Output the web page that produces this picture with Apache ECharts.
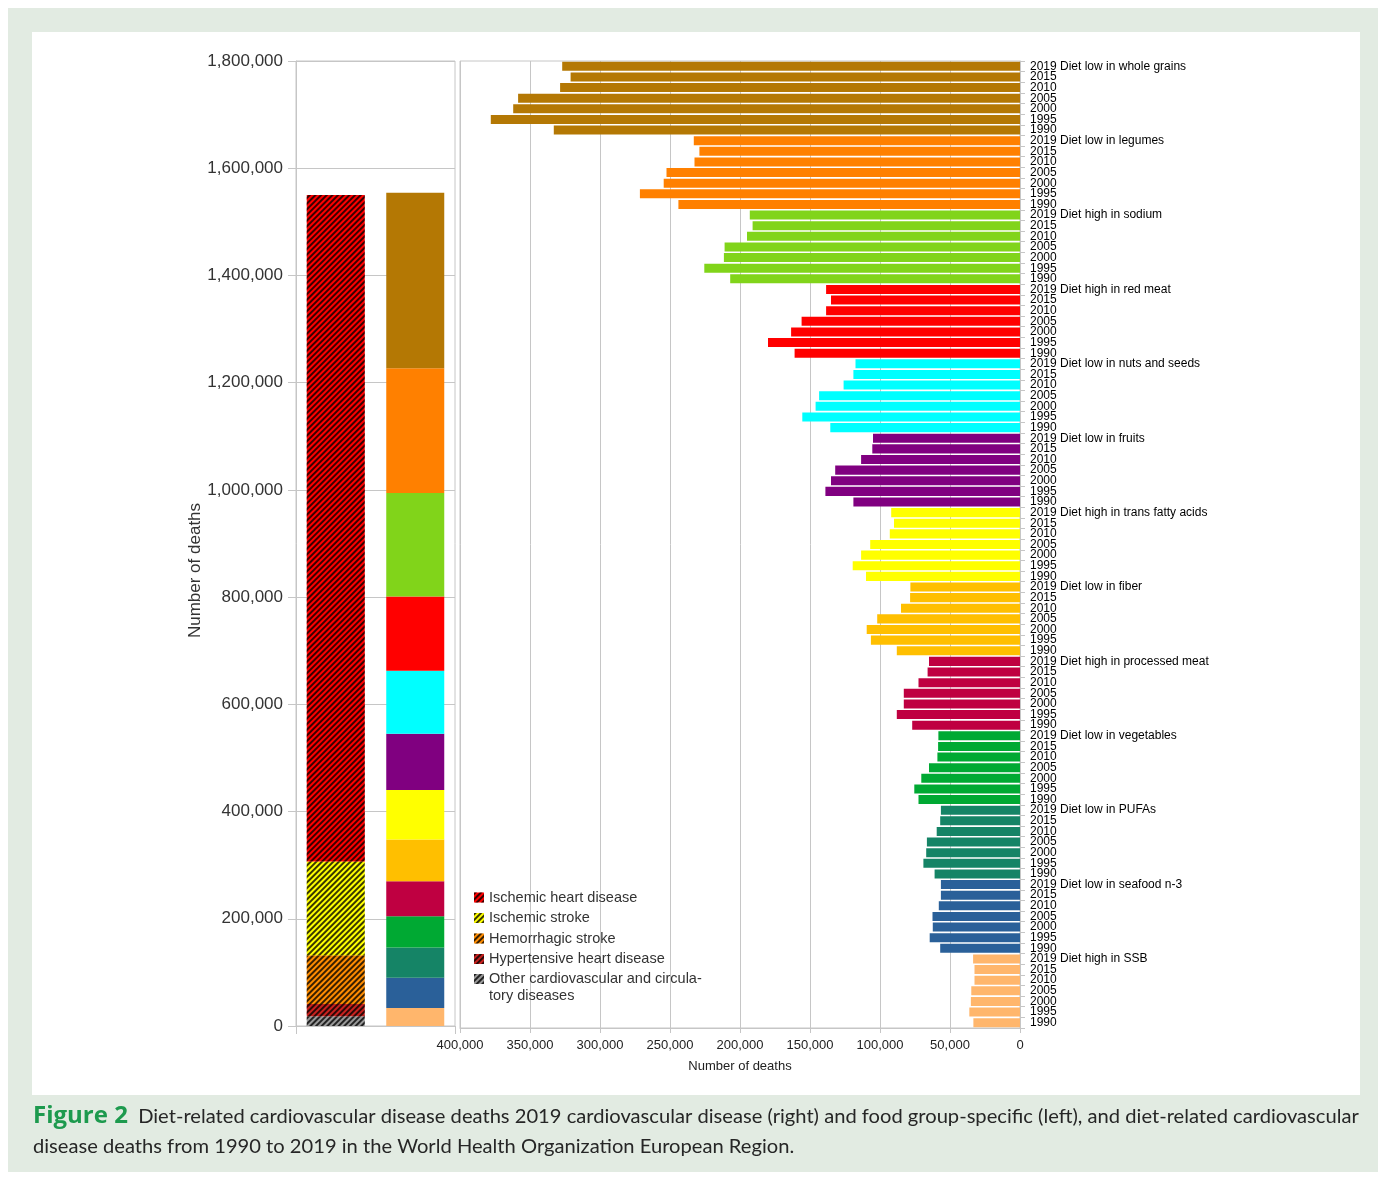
<!DOCTYPE html>
<html>
<head>
<meta charset="utf-8">
<script src="https://cdn.jsdelivr.net/npm/echarts@6/dist/echarts.min.js"></script>
<style>
  html, body { margin: 0; padding: 0; background: #ffffff; }
  #frame { position: absolute; left: 8px; top: 8px; width: 1370px; height: 1164px; background: #e2ebe2; }
  #panel { position: absolute; left: 32px; top: 32px; width: 1328px; height: 1063px; background: #ffffff; }
  #chart { position: absolute; left: 0; top: 0; width: 1386px; height: 1178px; }
</style>
</head>
<body>
<div id="frame"></div>
<div id="panel"></div>
<div id="chart"></div>
<script>
// Years shown for every food group, newest first
const years = ['2019', '2015', '2010', '2005', '2000', '1995', '1990'];

// Dietary risk groups, top to bottom
const riskGroups = [
  'Diet low in whole grains',
  'Diet low in legumes',
  'Diet high in sodium',
  'Diet high in red meat',
  'Diet low in nuts and seeds',
  'Diet low in fruits',
  'Diet high in trans fatty acids',
  'Diet low in fiber',
  'Diet high in processed meat',
  'Diet low in vegetables',
  'Diet low in PUFAs',
  'Diet low in seafood n-3',
  'Diet high in SSB'
];

// Deaths per group, in the order of `years` (2019 ... 1990)
const wholeGrains   = [327000, 321000, 328500, 358500, 362000, 378000, 333000];
const legumes       = [233000, 229000, 232500, 252500, 254500, 271500, 244000];
const sodium        = [193000, 191000, 195000, 211000, 211500, 225500, 207000];
const redMeat       = [138500, 135000, 138500, 156000, 163500, 180000, 161000];
const nutsSeeds     = [117500, 119000, 126000, 143500, 146000, 155500, 135500];
const fruits        = [105000, 105500, 113500, 132000, 135000, 139000, 119000];
const transFat      = [92000, 90000, 93000, 107000, 113500, 119500, 110000];
const fiber         = [78300, 78500, 85000, 102000, 109500, 106500, 88000];
const processedMeat = [65000, 66000, 72500, 83000, 83000, 88000, 77000];
const vegetables    = [58300, 58500, 59000, 65000, 70500, 75500, 72500];
const pufa          = [56500, 57000, 59500, 66500, 67000, 69000, 61000];
const seafoodN3     = [56500, 56500, 58000, 62500, 62300, 64500, 57000];
const ssb           = [33500, 32500, 32500, 34800, 35100, 36200, 33300];

const groupValues = [wholeGrains, legumes, sodium, redMeat, nutsSeeds, fruits,
  transFat, fiber, processedMeat, vegetables, pufa, seafoodN3, ssb];

const groupColors = ['#b47804', '#ff8000', '#81d41a', '#ff0000', '#00ffff', '#800080',
  '#ffff00', '#ffbf00', '#bf0041', '#00a933', '#158466', '#2a6099', '#ffb66c'];

// 2019 diet-related deaths by cardiovascular cause
const causeNames  = ['Ischemic heart disease', 'Ischemic stroke', 'Hemorrhagic stroke',
  'Hypertensive heart disease', 'Other cardiovascular and circulatory diseases'];
const causeDeaths = [1243000, 175000, 91000, 23000, 18000];
const causeColors = ['#ff0000', '#ffff00', '#ff8c00', '#c9211e', '#999999'];

// Axis ranges
const leftMax = 1800000, leftStep = 200000;
const rightMax = 400000, rightStep = 50000;

const FONT = "'Liberation Sans', Arial, sans-serif";
const GRID_LINE = '#c6c6c6';

// Diagonal black hatching used for the cause columns
const hatch = () => ({
  symbol: 'rect',
  symbolSize: 1,
  dashArrayX: [1, 0],
  dashArrayY: [1.3, 1.9],
  rotation: -Math.PI / 4,
  color: 'rgba(0,0,0,0.78)'
});

// Left panel: stacked 2019 totals, causes in one column and food groups in the other
const leftSeries = [];
for (let i = causeNames.length - 1; i >= 0; i--) {
  leftSeries.push({
    name: causeNames[i],
    type: 'bar',
    stack: 'total',
    barWidth: 58,
    xAxisIndex: 0, yAxisIndex: 0,
    data: [causeDeaths[i], '-'],
    itemStyle: { color: causeColors[i], decal: hatch() },
    emphasis: { disabled: true }
  });
}
for (let g = riskGroups.length - 1; g >= 0; g--) {
  leftSeries.push({
    name: riskGroups[g] + ' 2019',
    type: 'bar',
    stack: 'total',
    barWidth: 58,
    xAxisIndex: 0, yAxisIndex: 0,
    data: ['-', groupValues[g][0]],
    itemStyle: { color: groupColors[g] },
    emphasis: { disabled: true }
  });
}

// Right panel: one row per group and year
const rowLabels = [];
const rowData = [];
riskGroups.forEach((grp, g) => {
  years.forEach((yr, k) => {
    rowLabels.push(k === 0 ? yr + ' ' + grp : yr);
    rowData.push({ value: groupValues[g][k], itemStyle: { color: groupColors[g] } });
  });
});

const chart = echarts.init(document.getElementById('chart'), null, { renderer: 'canvas' });

const legendText = { fontSize: 14.5, color: '#333', fontFamily: FONT, lineHeight: 17 };

chart.setOption({
  backgroundColor: 'transparent',
  animation: false,
  grid: [
    { left: 296, top: 61, width: 159, height: 965, show: true, borderColor: GRID_LINE, borderWidth: 1, containLabel: false },
    { left: 460, top: 61, width: 560, height: 967, show: true, borderColor: GRID_LINE, borderWidth: 1, containLabel: false }
  ],
  legend: [
    {
      data: causeNames.slice(0, 4),
      orient: 'vertical',
      left: 474, top: 889,
      itemWidth: 10, itemHeight: 10, itemGap: 3.5,
      icon: 'rect',
      padding: 0,
      selectedMode: false,
      textStyle: legendText
    },
    {
      data: [causeNames[4]],
      orient: 'vertical',
      left: 474, top: 953.5,
      itemWidth: 10, itemHeight: 10,
      icon: 'rect',
      padding: 0,
      selectedMode: false,
      // leading empty line keeps the first text line level with the icon
      formatter: () => '\nOther cardiovascular and circula-\ntory diseases',
      textStyle: legendText
    }
  ],
  xAxis: [
    {
      gridIndex: 0,
      type: 'category',
      data: ['Cardiovascular cause', 'Food group'],
      axisLine: { show: true, lineStyle: { color: GRID_LINE } },
      axisTick: { show: true, length: 8, lineStyle: { color: GRID_LINE } },
      axisLabel: { show: false },
      splitLine: { show: false }
    },
    {
      gridIndex: 1,
      type: 'value',
      inverse: true,
      min: 0, max: rightMax, interval: rightStep,
      axisLine: { show: true, lineStyle: { color: GRID_LINE } },
      axisTick: { show: true, length: 5, lineStyle: { color: GRID_LINE } },
      axisLabel: { fontSize: 13, color: '#222', fontFamily: FONT, margin: 11 },
      splitLine: { show: true, lineStyle: { color: GRID_LINE, width: 1 } },
      name: 'Number of deaths',
      nameLocation: 'middle',
      nameGap: 32,
      nameTextStyle: { fontSize: 13, color: '#222', fontFamily: FONT }
    }
  ],
  yAxis: [
    {
      gridIndex: 0,
      type: 'value',
      min: 0, max: leftMax, interval: leftStep,
      axisLine: { show: true, lineStyle: { color: GRID_LINE } },
      axisTick: { show: true, length: 8, lineStyle: { color: GRID_LINE } },
      axisLabel: { fontSize: 17, color: '#333', fontFamily: FONT, margin: 13 },
      splitLine: { show: true, lineStyle: { color: GRID_LINE } },
      name: 'Number of deaths',
      nameLocation: 'middle',
      nameGap: 92,
      nameTextStyle: { fontSize: 17, color: '#333', fontFamily: FONT, padding: [0, 54, 0, 0] }
    },
    {
      gridIndex: 1,
      type: 'category',
      position: 'right',
      inverse: true,
      data: rowLabels,
      axisLine: { show: true, lineStyle: { color: GRID_LINE } },
      axisTick: { show: true, length: 5, lineStyle: { color: GRID_LINE } },
      axisLabel: { interval: 0, fontSize: 12, color: '#000', fontFamily: FONT, margin: 10 },
      splitLine: { show: false }
    }
  ],
  series: leftSeries.concat([{
    name: 'Deaths by year',
    type: 'bar',
    xAxisIndex: 1, yAxisIndex: 1,
    barCategoryGap: '15%',
    data: rowData,
    emphasis: { disabled: true }
  }]),
  graphic: [{
    type: 'text',
    left: 33, top: 1101,
    style: {
      text: '{f|Figure 2}  Diet-related cardiovascular disease deaths 2019 cardiovascular disease (right) and food group-specific (left), and diet-related cardiovascular\ndisease deaths from 1990 to 2019 in the World Health Organization European Region.',
      font: "20.15px Lato, 'Open Sans', sans-serif",
      fill: '#262626',
      lineHeight: 30,
      rich: {
        f: { fontFamily: "'Open Sans', Lato, sans-serif", fontWeight: 'bold', fontSize: 24, fill: '#1d9a4e', lineHeight: 30 }
      }
    }
  }]
});
</script>
</body>
</html>
